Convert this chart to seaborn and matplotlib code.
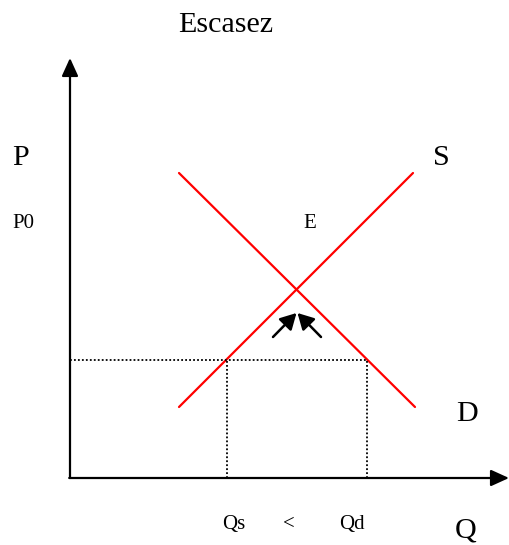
import matplotlib
matplotlib.use("Agg")
import pandas as pd
import seaborn as sns
import matplotlib.pyplot as plt

# datos (unidades del grafico, origen en el cruce de los ejes)
oferta_q = [10.9, 34.3]
oferta_p = [7.1, 30.5]
demanda_q = [10.9, 34.5]
demanda_p = [30.5, 7.1]
precio_max = 11.8
q_oferta = 15.7
q_demanda = 29.7
equilibrio = (22.7, 18.8)

df = pd.DataFrame({
    'q': oferta_q + demanda_q,
    'p': oferta_p + demanda_p,
    'curva': ['S', 'S', 'D', 'D'],
})

sns.set_style('white')
plt.rcParams['font.family'] = ['Liberation Serif', 'DejaVu Serif']
plt.rcParams['text.color'] = 'black'

fig = plt.figure(figsize=(5.09, 5.45), dpi=100)
ax = fig.add_axes([0, 0, 1, 1])
ax.set_xlim(-7.0, 43.9)
ax.set_ylim(-6.7, 47.8)
ax.axis('off')

def px(x, y):
    # de pixeles a coordenadas del grafico
    return (x - 70) / 10, (478 - y) / 10

# curvas de oferta y demanda
sns.lineplot(data=df, x='q', y='p', hue='curva', palette=['#ff0000', '#ff0000'],
             linewidth=1.6, legend=False, ax=ax, estimator=None, sort=False)

# lineas punteadas
punteo = dict(color='black', linewidth=1.3, linestyle=(0, (1, 1.2)), dash_capstyle='butt')
ax.plot([0, q_demanda], [precio_max, precio_max], **punteo)
ax.plot([q_oferta, q_oferta], [0, precio_max], **punteo)
ax.plot([q_demanda, q_demanda], [0, precio_max], **punteo)

# ejes con flecha
flecha = dict(arrowstyle='-|>,head_length=0.55,head_width=0.25', color='black',
              lw=1.6, mutation_scale=20, shrinkA=0, shrinkB=0)
ax.annotate('', xy=(0, 42.0), xytext=(0, 0), arrowprops=flecha)
ax.annotate('', xy=(43.9, 0), xytext=(-0.08, 0), arrowprops=flecha)

# flechitas hacia el equilibrio
flechita = dict(arrowstyle='-|>,head_length=0.6,head_width=0.33', color='black',
                lw=1.8, mutation_scale=16, shrinkA=0, shrinkB=0)
ex, ey = equilibrio
ax.annotate('', xy=(ex - 0.05, ey - 2.3), xytext=(ex - 2.4, ey - 4.7), arrowprops=flechita)
ax.annotate('', xy=(ex + 0.05, ey - 2.3), xytext=(ex + 2.4, ey - 4.7), arrowprops=flechita)

# textos
grande = 21.6
chico = 15
ax.text(*px(226, 32), 'Escasez', fontsize=grande, ha='center', va='baseline')
ax.text(*px(12, 165), 'P', fontsize=grande, ha='left', va='baseline')
ax.text(*px(433, 165), 'S', fontsize=grande, ha='left', va='baseline')
ax.text(*px(12, 228), 'P0', fontsize=chico, ha='left', va='baseline')
ax.text(*px(303, 228), 'E', fontsize=chico, ha='left', va='baseline')
ax.text(*px(456, 421), 'D', fontsize=grande, ha='left', va='baseline')
ax.text(*px(222, 529), 'Qs', fontsize=chico, ha='left', va='baseline')
ax.text(*px(289, 529), '<', fontsize=chico, ha='center', va='baseline')
ax.text(*px(339, 529), 'Qd', fontsize=chico, ha='left', va='baseline')
ax.text(*px(455, 538), 'Q', fontsize=grande, ha='left', va='baseline')

fig.savefig('out.png', dpi=100, facecolor='white')
